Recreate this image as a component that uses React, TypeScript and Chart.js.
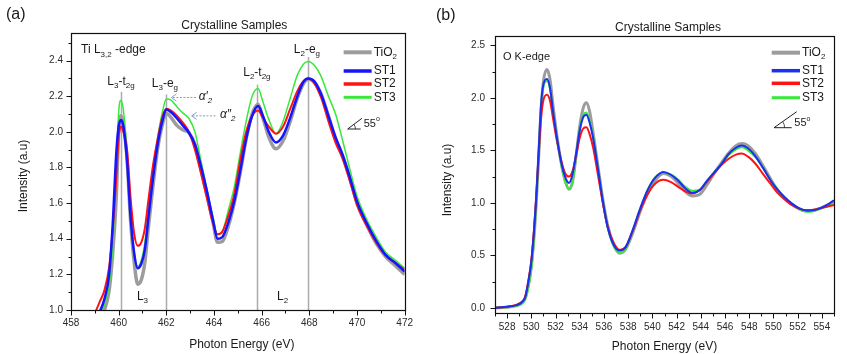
import React, { useEffect, useRef } from "react";
import { Chart, registerables } from "chart.js";

Chart.register(...registerables);

const FONT = "'Liberation Sans', Arial, Helvetica, sans-serif";

// ---------------- Panel (a): Ti L3,2-edge ----------------
const tiEnergy = [
  459.0, 459.2, 459.4, 459.6, 459.75, 459.9, 460.0, 460.1, 460.2, 460.35,
  460.5, 460.65, 460.8, 460.95, 461.1, 461.25, 461.45, 461.65, 461.85, 462.0,
  462.2, 462.45, 462.7, 462.95, 463.2, 463.45, 463.7, 463.95, 464.15, 464.35,
  464.6, 464.85, 465.1, 465.35, 465.6, 465.85, 466.05, 466.3, 466.6, 466.9,
  467.2, 467.5, 467.75, 467.95, 468.2, 468.5, 468.8, 469.1, 469.4, 469.7,
  470.0, 470.4, 470.8, 471.2, 471.6, 472.0,
];
const tiTiO2 = [
  0.92, 0.95, 1.0, 1.11, 1.32, 1.64, 2.0, 2.09, 2.04, 1.85,
  1.5, 1.27, 1.145, 1.17, 1.27, 1.47, 1.71, 1.92, 2.05, 2.105,
  2.08, 2.035, 2.01, 1.995, 1.93, 1.79, 1.65, 1.5, 1.38, 1.385,
  1.47, 1.6, 1.77, 1.96, 2.1, 2.155, 2.08, 1.97, 1.905, 1.95,
  2.06, 2.19, 2.27, 2.295, 2.28, 2.21, 2.09, 1.96, 1.86, 1.74,
  1.6, 1.48, 1.375, 1.3, 1.25, 1.2,
];
const tiST1 = [
  0.95, 0.99, 1.06, 1.2, 1.48, 1.88, 2.03, 2.066, 2.03, 1.84,
  1.52, 1.32, 1.235, 1.26, 1.34, 1.52, 1.75, 1.94, 2.07, 2.125,
  2.11, 2.075, 2.035, 1.995, 1.93, 1.81, 1.67, 1.51, 1.4, 1.41,
  1.49, 1.61, 1.78, 1.96, 2.09, 2.145, 2.09, 2.0, 1.94, 1.98,
  2.08, 2.2, 2.28, 2.3, 2.285, 2.21, 2.09, 1.97, 1.87, 1.745,
  1.61, 1.49, 1.39, 1.31, 1.265, 1.215,
];
const tiST2 = [
  0.98, 1.045, 1.11, 1.24, 1.45, 1.74, 1.97, 2.03, 2.0, 1.9,
  1.63, 1.43, 1.36, 1.38, 1.46, 1.62, 1.82, 1.97, 2.09, 2.13,
  2.12, 2.09, 2.05, 2.0, 1.9, 1.77, 1.63, 1.49, 1.425, 1.44,
  1.53, 1.65, 1.84, 2.0, 2.09, 2.12, 2.08, 2.03, 1.99, 2.03,
  2.13, 2.23, 2.285, 2.3, 2.275, 2.19, 2.06, 1.94, 1.85, 1.725,
  1.59, 1.475, 1.38, 1.305, 1.265, 1.228,
];
const tiST3 = [
  0.93, 0.97, 1.03, 1.14, 1.37, 1.78, 2.11, 2.178, 2.12, 1.88,
  1.52, 1.32, 1.245, 1.28, 1.38, 1.56, 1.79, 1.98, 2.12, 2.185,
  2.178, 2.14, 2.105, 2.075, 2.0, 1.84, 1.68, 1.52, 1.425, 1.44,
  1.56, 1.69, 1.88, 2.06, 2.2, 2.243, 2.17, 2.07, 1.99, 2.06,
  2.19, 2.32, 2.38, 2.395, 2.375, 2.31, 2.2, 2.1, 1.95, 1.79,
  1.64, 1.51, 1.41, 1.325, 1.28, 1.235,
];
const tiXLabels = [458, 460, 462, 464, 466, 468, 470, 472];
const tiXMinor = [459, 461, 463, 465, 467, 469, 471];
const tiYLabels = [1.0, 1.2, 1.4, 1.6, 1.8, 2.0, 2.2, 2.4];
const tiYMinor = [1.1, 1.3, 1.5, 1.7, 1.9, 2.1, 2.3, 2.5];
const tiMarkerE = [460.1, 462.0, 465.82, 467.93];
const tiMarkerTop = [2.225, 2.21, 2.265, 2.42];
const tiPeakLabelE = [460.1, 461.94, 465.8, 467.9];
const tiPeakLabelI = [2.283, 2.27, 2.335, 2.46];
const tiEdgeLabelE = [461.0, 466.88];
const tiEdgeLabelI = [1.076, 1.076];

// ---------------- Panel (b): O K-edge ----------------
const oEnergy = [
  527.0, 528.0, 528.8, 529.2, 529.5, 529.8, 530.0, 530.2, 530.4, 530.6,
  530.8, 531.0, 531.3, 531.55, 531.8, 532.1, 532.5, 532.8, 533.1, 533.4,
  533.7, 534.0, 534.3, 534.55, 534.8, 535.1, 535.5, 535.9, 536.3, 536.8,
  537.3, 537.8, 538.4, 539.0, 539.6, 540.2, 540.9, 541.5, 542.1, 542.7,
  543.3, 543.9, 544.5, 545.1, 545.7, 546.3, 546.9, 547.4, 547.9, 548.5,
  549.1, 549.7, 550.3, 550.9, 551.5, 552.1, 552.7, 553.3, 553.9, 554.5,
  555.0,
];
const oTiO2 = [
  0.0, 0.005, 0.02, 0.045, 0.09, 0.24, 0.39, 0.64, 0.98, 1.42,
  1.88, 2.16, 2.27, 2.17, 1.92, 1.65, 1.36, 1.21, 1.13, 1.2,
  1.45, 1.73, 1.91, 1.955, 1.88, 1.67, 1.35, 1.04, 0.79, 0.6,
  0.52, 0.56, 0.72, 0.92, 1.09, 1.21, 1.28, 1.255, 1.19, 1.11,
  1.065, 1.08, 1.17, 1.28, 1.38, 1.475, 1.545, 1.565, 1.545, 1.47,
  1.36, 1.24, 1.13, 1.05, 0.99, 0.945, 0.925, 0.93, 0.95, 0.98,
  1.01,
];
const oST1 = [
  0.0, 0.01, 0.025, 0.05, 0.1, 0.28, 0.44, 0.7, 1.04, 1.48,
  1.93, 2.13, 2.18, 2.09, 1.87, 1.63, 1.37, 1.245, 1.19, 1.27,
  1.47, 1.69, 1.82, 1.84, 1.77, 1.62, 1.33, 1.02, 0.77, 0.6,
  0.545, 0.58, 0.75, 0.95, 1.12, 1.235, 1.295, 1.27, 1.215, 1.14,
  1.095, 1.12, 1.21, 1.29, 1.37, 1.465, 1.525, 1.546, 1.52, 1.445,
  1.34, 1.225, 1.13, 1.055, 0.995, 0.95, 0.928, 0.93, 0.95, 0.985,
  1.025,
];
const oST2 = [
  0.0, 0.01, 0.03, 0.055, 0.11, 0.29, 0.45, 0.71, 1.04, 1.44,
  1.8, 1.98, 2.03, 1.97, 1.8, 1.6, 1.39, 1.28, 1.25, 1.3,
  1.45, 1.62, 1.71, 1.72, 1.66, 1.53, 1.27, 1.0, 0.78, 0.62,
  0.55, 0.58, 0.74, 0.93, 1.08, 1.18, 1.22, 1.2, 1.155, 1.11,
  1.09, 1.12, 1.2, 1.28, 1.36, 1.42, 1.46, 1.47, 1.44, 1.375,
  1.28, 1.19, 1.1, 1.035, 0.98, 0.945, 0.93, 0.935, 0.95, 0.965,
  0.98,
];
const oST3 = [
  0.0, 0.005, 0.018, 0.035, 0.08, 0.22, 0.37, 0.62, 0.97, 1.42,
  1.88, 2.11, 2.16, 2.08, 1.87, 1.62, 1.35, 1.2, 1.13, 1.2,
  1.44, 1.7, 1.84, 1.86, 1.79, 1.64, 1.33, 1.02, 0.77, 0.59,
  0.525, 0.565, 0.74, 0.94, 1.12, 1.24, 1.29, 1.27, 1.225, 1.155,
  1.115, 1.125, 1.2, 1.29, 1.37, 1.455, 1.51, 1.53, 1.5, 1.435,
  1.34, 1.225, 1.13, 1.05, 0.99, 0.94, 0.915, 0.92, 0.945, 0.975,
  1.0,
];
const oXLabels = [528, 530, 532, 534, 536, 538, 540, 542, 544, 546, 548, 550, 552, 554];
const oXMinor = [527, 529, 531, 533, 535, 537, 539, 541, 543, 545, 547, 549, 551, 553, 555];
const oYLabels = [0.0, 0.5, 1.0, 1.5, 2.0, 2.5];
const oYMinor = [0.25, 0.75, 1.25, 1.75, 2.25];

const seriesNames = ["TiO2", "ST1", "ST2", "ST3"];

type Part = { t: string; sub?: boolean; sup?: boolean; it?: boolean };

function drawRich(ctx: any, parts: Part[], x: number, y: number, size: number, align: string, color = "#1a1a1a") {
  ctx.save();
  ctx.fillStyle = color;
  ctx.textBaseline = "middle";
  ctx.textAlign = "left";
  const fonts = parts.map((p) => {
    const s = p.sub || p.sup ? Math.round(size * 0.66) : size;
    return `${p.it ? "italic " : ""}${s}px ${FONT}`;
  });
  const widths = parts.map((p, i) => {
    ctx.font = fonts[i];
    return ctx.measureText(p.t).width;
  });
  const total = widths.reduce((a, b) => a + b, 0);
  let cx = align === "center" ? x - total / 2 : align === "right" ? x - total : x;
  parts.forEach((p, i) => {
    ctx.font = fonts[i];
    const dy = p.sub ? size * 0.36 : p.sup ? -size * 0.36 : 0;
    ctx.fillText(p.t, cx, y + dy);
    cx += widths[i];
  });
  ctx.restore();
}

function drawRotated(ctx: any, text: string, x: number, y: number, size: number) {
  ctx.save();
  ctx.translate(x, y);
  ctx.rotate(-Math.PI / 2);
  ctx.font = `${size}px ${FONT}`;
  ctx.fillStyle = "#1a1a1a";
  ctx.textAlign = "center";
  ctx.textBaseline = "middle";
  ctx.fillText(text, 0, 0);
  ctx.restore();
}

function drawFrameAndTicks(chart: any, xMaj: number[], xMin: number[], yMaj: number[], yMin: number[]) {
  const { ctx, chartArea: a, scales } = chart;
  const xs = scales.x;
  const ys = scales.y;
  ctx.save();
  ctx.strokeStyle = "#111";
  ctx.lineWidth = 1;
  const L = Math.round(a.left) + 0.5;
  const B = Math.round(a.bottom) + 0.5;
  ctx.beginPath();
  xMaj.forEach((v) => {
    const px = Math.round(xs.getPixelForValue(v)) + 0.5;
    ctx.moveTo(px, B);
    ctx.lineTo(px, B + 5);
  });
  xMin.forEach((v) => {
    const px = Math.round(xs.getPixelForValue(v)) + 0.5;
    ctx.moveTo(px, B);
    ctx.lineTo(px, B + 3);
  });
  yMaj.forEach((v) => {
    const py = Math.round(ys.getPixelForValue(v)) + 0.5;
    ctx.moveTo(L, py);
    ctx.lineTo(L - 5, py);
  });
  yMin.forEach((v) => {
    const py = Math.round(ys.getPixelForValue(v)) + 0.5;
    ctx.moveTo(L, py);
    ctx.lineTo(L - 3, py);
  });
  ctx.stroke();
  ctx.lineWidth = 1.2;
  ctx.strokeRect(L, Math.round(a.top) + 0.5, Math.round(a.right) - Math.round(a.left), Math.round(a.bottom) - Math.round(a.top));
  ctx.restore();
}

function drawLegend(chart: any, colors: string[], widths: number[], x0: number, x1: number, ys: number[]) {
  const { ctx } = chart;
  seriesNames.forEach((name, i) => {
    ctx.save();
    ctx.strokeStyle = colors[i];
    ctx.lineWidth = widths[i];
    ctx.beginPath();
    ctx.moveTo(x0, ys[i]);
    ctx.lineTo(x1, ys[i]);
    ctx.stroke();
    ctx.restore();
    const parts: Part[] = name === "TiO2" ? [{ t: "TiO" }, { t: "2", sub: true }] : [{ t: name }];
    drawRich(ctx, parts, x1 + 2, ys[i], 12, "left");
  });
}

function drawAngle(ctx: any, ox: number, oy: number, hLen: number, sx: number, sy: number, tx: number, ty: number) {
  ctx.save();
  ctx.strokeStyle = "#222";
  ctx.lineWidth = 1;
  ctx.beginPath();
  ctx.moveTo(ox, oy);
  ctx.lineTo(ox + hLen, oy);
  ctx.moveTo(ox, oy);
  ctx.lineTo(ox + sx, oy + sy);
  ctx.stroke();
  ctx.lineWidth = 0.8;
  ctx.beginPath();
  ctx.arc(ox, oy, hLen * 0.6, Math.atan2(sy, sx), 0);
  ctx.stroke();
  ctx.restore();
  drawRich(ctx, [{ t: "55" }, { t: "o", sup: true }], tx, ty, 11, "left");
}

function dashedArrow(ctx: any, x1: number, y1: number, x2: number, y2: number) {
  ctx.save();
  ctx.strokeStyle = "#7f9fd8";
  ctx.lineWidth = 1;
  ctx.setLineDash([2, 1.5]);
  ctx.beginPath();
  ctx.moveTo(x1, y1);
  ctx.lineTo(x2, y2);
  ctx.stroke();
  ctx.setLineDash([]);
  ctx.beginPath();
  ctx.moveTo(x2 + 5, y2 - 3.5);
  ctx.lineTo(x2, y2);
  ctx.lineTo(x2 + 5, y2 + 3.5);
  ctx.stroke();
  ctx.restore();
}

const colorsA = ["#9c9c9c", "#1414ff", "#ff1212", "#3ae83a"];
const widthsA = [3.5, 2.5, 2, 1.5];
const colorsB = ["#9c9c9c", "#1a30f0", "#ff1212", "#3ae83a"];
const widthsB = [3, 2, 2, 2];

const peakLabelParts: Part[][] = [
  [{ t: "L" }, { t: "3", sub: true }, { t: "-t" }, { t: "2g", sub: true }],
  [{ t: "L" }, { t: "3", sub: true }, { t: "-e" }, { t: "g", sub: true }],
  [{ t: "L" }, { t: "2", sub: true }, { t: "-t" }, { t: "2g", sub: true }],
  [{ t: "L" }, { t: "2", sub: true }, { t: "-e" }, { t: "g", sub: true }],
];
const edgeLabelParts: Part[][] = [
  [{ t: "L" }, { t: "3", sub: true }],
  [{ t: "L" }, { t: "2", sub: true }],
];

const panelAPlugin = {
  id: "panelA",
  beforeDatasetsDraw(chart: any) {
    const { ctx, chartArea: a, scales } = chart;
    ctx.save();
    ctx.strokeStyle = "#ababab";
    ctx.lineWidth = 1.5;
    tiMarkerE.forEach((e, i) => {
      const px = Math.round(scales.x.getPixelForValue(e)) + 0.5;
      ctx.beginPath();
      ctx.moveTo(px, scales.y.getPixelForValue(tiMarkerTop[i]));
      ctx.lineTo(px, a.bottom);
      ctx.stroke();
    });
    ctx.restore();
  },
  afterDraw(chart: any) {
    const { ctx, chartArea: a, scales } = chart;
    const X = (v: number) => scales.x.getPixelForValue(v);
    const Y = (v: number) => scales.y.getPixelForValue(v);
    drawFrameAndTicks(chart, tiXLabels, tiXMinor, tiYLabels, tiYMinor);
    drawRich(ctx, [{ t: "(a)" }], 6, 15, 16, "left");
    drawRich(ctx, [{ t: "Crystalline Samples" }], (a.left + a.right) / 2 - 3.5, 25.7, 12, "center");
    drawRich(ctx, [{ t: "Photon Energy (eV)" }], (a.left + a.right) / 2 + 4, 345, 12, "center");
    drawRotated(ctx, "Intensity (a.u)", 24, 176, 12);
    drawRich(ctx, [{ t: "Ti L" }, { t: "3,2", sub: true }, { t: " -edge" }], a.left + 10, a.top + 17, 12, "left");
    peakLabelParts.forEach((p, i) => drawRich(ctx, p, X(tiPeakLabelE[i]), Y(tiPeakLabelI[i]), 12, "center"));
    edgeLabelParts.forEach((p, i) => drawRich(ctx, p, X(tiEdgeLabelE[i]), Y(tiEdgeLabelI[i]), 12, "center"));
    dashedArrow(ctx, X(463.24), Y(2.193), X(462.21), Y(2.193));
    drawRich(ctx, [{ t: "α", it: true }, { t: "′", it: true }, { t: "2", sub: true, it: true }], X(463.36), Y(2.198), 12, "left");
    dashedArrow(ctx, X(464.06), Y(2.09), X(463.06), Y(2.09));
    drawRich(ctx, [{ t: "α", it: true }, { t: "″", it: true }, { t: "2", sub: true, it: true }], X(464.25), Y(2.095), 12, "left");
    drawLegend(chart, colorsA, [4, 3.5, 3.5, 3], a.right - 61, a.right - 33, [a.top + 19.3, a.top + 38, a.top + 51, a.top + 64.3]);
    drawAngle(ctx, a.right - 57, a.top + 96, 13, 14.3, -10.7, a.right - 41, a.top + 90.5);
  },
};

const panelBPlugin = {
  id: "panelB",
  afterDraw(chart: any) {
    const { ctx, chartArea: a } = chart;
    drawFrameAndTicks(chart, oXLabels, oXMinor, oYLabels, oYMinor);
    drawRich(ctx, [{ t: "(b)" }], 16, 15.8, 16, "left");
    drawRich(ctx, [{ t: "Crystalline Samples" }], (a.left + a.right) / 2 + 3.5, 27.3, 12, "center");
    drawRich(ctx, [{ t: "Photon Energy (eV)" }], (a.left + a.right) / 2, 346.5, 12, "center");
    drawRotated(ctx, "Intensity (a.u)", 27.5, 180, 12);
    drawRich(ctx, [{ t: "O K-edge" }], a.left + 8, a.top + 21.3, 11, "left");
    drawLegend(chart, colorsB, [4, 3.5, 3.5, 3], a.right - 62.3, a.right - 34, [a.top + 16.7, a.top + 34.7, a.top + 47.3, a.top + 61.7]);
    drawAngle(ctx, a.right - 60, a.top + 91.7, 17.7, 22.7, -16, a.right - 39.7, a.top + 87);
  },
};

function makeDatasets(energy: number[], series: number[][], colors: string[], widths: number[]) {
  const order = [3, 0, 1, 2];
  return series.map((vals, i) => ({
    label: seriesNames[i],
    data: energy.map((e, j) => ({ x: e, y: vals[j] })),
    borderColor: colors[i],
    backgroundColor: colors[i],
    borderWidth: widths[i],
    order: order[i],
    pointRadius: 0,
    fill: false,
    cubicInterpolationMode: "monotone",
  }));
}

function makeConfig(p: any) {
  return {
    type: "line",
    data: { datasets: p.datasets },
    options: {
      animation: false,
      responsive: false,
      devicePixelRatio: 1,
      events: [],
      layout: { padding: p.padding },
      plugins: { legend: { display: false }, tooltip: { enabled: false }, title: { display: false } },
      scales: {
        x: {
          type: "linear",
          min: p.xMin,
          max: p.xMax,
          afterFit: (s: any) => {
            s.height = p.xHeight;
          },
          afterBuildTicks: (s: any) => {
            s.ticks = p.xLabels.map((v: number) => ({ value: v }));
          },
          grid: { display: false, drawTicks: false },
          border: { display: false },
          ticks: {
            padding: p.xPad,
            autoSkip: false,
            maxRotation: 0,
            color: "#2a2a2a",
            font: { size: 10, family: FONT },
            callback: (v: any) => String(v),
          },
        },
        y: {
          type: "linear",
          min: p.yMin,
          max: p.yMax,
          afterFit: (s: any) => {
            s.width = p.yWidth;
          },
          afterBuildTicks: (s: any) => {
            s.ticks = p.yLabels.map((v: number) => ({ value: v }));
          },
          grid: { display: false, drawTicks: false },
          border: { display: false },
          ticks: {
            padding: p.yPad,
            autoSkip: false,
            color: "#2a2a2a",
            font: { size: 10, family: FONT },
            callback: (v: any) => Number(v).toFixed(1),
          },
        },
      },
    },
    plugins: [p.plugin],
  };
}

export default function App() {
  const refA = useRef<HTMLCanvasElement | null>(null);
  const refB = useRef<HTMLCanvasElement | null>(null);

  useEffect(() => {
    const chartA = new Chart(
      refA.current as any,
      makeConfig({
        datasets: makeDatasets(tiEnergy, [tiTiO2, tiST1, tiST2, tiST3], colorsA, widthsA),
        padding: { left: 0, right: 9, top: 33, bottom: 0 },
        xMin: 458,
        xMax: 472,
        yMin: 1.0,
        yMax: 2.555,
        xHeight: 44,
        yWidth: 71,
        xPad: 7,
        yPad: 8,
        xLabels: tiXLabels,
        yLabels: tiYLabels,
        plugin: panelAPlugin,
      }) as any
    );
    const chartB = new Chart(
      refB.current as any,
      makeConfig({
        datasets: makeDatasets(oEnergy, [oTiO2, oST1, oST2, oST3], colorsB, widthsB),
        padding: { left: 0, right: 13, top: 36, bottom: 0 },
        xMin: 527,
        xMax: 555,
        yMin: -0.05,
        yMax: 2.59,
        xHeight: 41,
        yWidth: 75,
        xPad: 8,
        yPad: 10,
        xLabels: oXLabels,
        yLabels: oYLabels,
        plugin: panelBPlugin,
      }) as any
    );
    return () => {
      chartA.destroy();
      chartB.destroy();
    };
  }, []);

  return (
    <div style={{ position: "absolute", left: 0, top: 0, width: 847, height: 354, background: "#fff" }}>
      <canvas ref={refA} width={420} height={354} style={{ position: "absolute", left: 0, top: 0 }} />
      <canvas ref={refB} width={427} height={354} style={{ position: "absolute", left: 420, top: 0 }} />
    </div>
  );
}
